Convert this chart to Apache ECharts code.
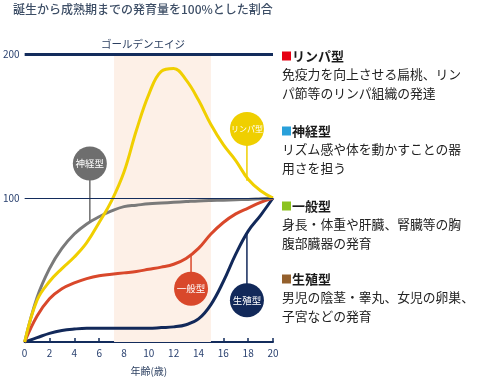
<!DOCTYPE html>
<html><head><meta charset="utf-8">
<script src="https://cdn.jsdelivr.net/npm/echarts@6/dist/echarts.min.js"></script>
<style>html,body{margin:0;padding:0;background:#fff;}#c{width:490px;height:381px;}</style>
</head><body><div id="c"></div>
<script>
const ages = [0,1,2,3,4,5,6,7,8,9,10,11,12,13,14,15,16,17,18,19,20];
const lymphoid     = [0,29,42,51,59,69,83,98,118,147,172,188,190,182,168,151,137,126,113,105,100];
const neural       = [0,31,51,65,75,82,87,91,94,95,96,96.5,97,97.5,98,98.3,98.5,98.8,99,99.5,100];
const general      = [0,18,30,37,41,44,46,47,48,49,50.5,52,54,58,65,75,83,89,93,97,100];
const reproductive = [0,3,6,8,9,9.5,9.5,9.5,9.5,9.5,9.5,10,10.5,12,16,26,42,61,77,88,100];
const yTicks = [100, 200];
const goldenAge = [7.2, 15.0];
const calloutNames = ['神経型','リンパ型','一般型','生殖型'];
const calloutAt = [[5.25,124],[17.9,148],[13.4,37],[17.9,29]];
const calloutTo = [[5.25,84],[17.9,112],[13.4,60],[17.9,76]];
const notes = [
  {head:'リンパ型', lines:['免疫力を向上させる扁桃、リン','パ節等のリンパ組織の発達']},
  {head:'神経型', lines:['リズム感や体を動かすことの器','用さを担う']},
  {head:'一般型', lines:['身長・体重や肝臓、腎臓等の胸','腹部臓器の発育']},
  {head:'生殖型', lines:['男児の陰茎・睾丸、女児の卵巣、','子宮などの発育']}
];

const FONT = '"Noto Sans CJK JP", "Noto Sans", sans-serif';
const NAVY = '#132c5c';
const curveColors = {lymph:'#f0cf00', neural:'#7a7a7a', general:'#d9482b', repro:'#12295a'};
const calloutColors = ['#6e6e6e', '#efcf00', '#d9482b', '#12295a'];
const noteColors = ['#e60012', '#29a0da', '#8cc31f', '#94602c'];

const pairs = arr => ages.map((a, i) => [a, arr[i]]);

const series = [];
series.push({
  type:'line', name:'base', data:[], silent:true,
  markArea:{silent:true, itemStyle:{color:'#fdf0e7'}, data:[[{xAxis:goldenAge[0], yAxis:0},{xAxis:goldenAge[1], yAxis:200}]]},
  markLine:{silent:true, symbol:'none', label:{show:false}, data:[
    {yAxis:yTicks[1], lineStyle:{color:NAVY, width:3, type:'solid'}},
    {yAxis:yTicks[0], lineStyle:{color:NAVY, width:1, type:'solid'}}
  ]}
});
const curves = [
  [reproductive, curveColors.repro],
  [general, curveColors.general],
  [neural, curveColors.neural],
  [lymphoid, curveColors.lymph]
];
curves.forEach(([arr, col]) => {
  series.push({type:'line', data:pairs(arr), smooth:0.4, symbol:'none',
    lineStyle:{color:col, width:3}, silent:true, z:3});
});
calloutNames.forEach((n, i) => {
  series.push({type:'line', data:[calloutAt[i], calloutTo[i]], symbol:'none', silent:true,
    lineStyle:{color:calloutColors[i], width:1.5}, z:2});
});
series.push({type:'scatter', silent:true, z:5,
  data: calloutNames.map((n, i) => ({value:calloutAt[i], name:n, itemStyle:{color:calloutColors[i], opacity:1},
    label:{fontSize: n.length > 3 ? 8 : 9.5}})),
  symbolSize:34,
  itemStyle:{opacity:1},
  label:{show:true, position:'inside', formatter:p => p.name, color:'#fff', fontSize:9.5, fontFamily:FONT}
});

const graphic = [
  {type:'text', left:13, top:3, style:{text:'誕生から成熟期までの発育量を100%とした割合', fontSize:12, fontWeight:500, fill:'#3d4e66', fontFamily:FONT}},
  {type:'text', x:143, y:44, style:{text:'ゴールデンエイジ', fontSize:10.5, fill:'#2b3f60', fontFamily:FONT, align:'center', verticalAlign:'middle'}}
];
const headY = [56, 131, 206, 279];
notes.forEach((nt, i) => {
  graphic.push({type:'rect', shape:{x:282, y:headY[i]-4.5, width:9, height:9}, style:{fill:noteColors[i]}});
  graphic.push({type:'text', x:292, y:headY[i], style:{text:nt.head, fontSize:13, fontWeight:'bold', fill:'#1a1a1a', fontFamily:FONT, verticalAlign:'middle'}});
  nt.lines.forEach((ln, j) => {
    graphic.push({type:'text', x:282, y:headY[i]+18+j*19, style:{text:ln, fontSize:12.8, fill:'#222', fontFamily:FONT, verticalAlign:'middle'}});
  });
});

const chart = echarts.init(document.getElementById('c'), null, {renderer:'canvas'});
chart.setOption({
  animation:false,
  grid:{left:20, right:217, top:54, bottom:33, containLabel:false},
  xAxis:{type:'value', min:0, max:20, interval:2,
    name:'年齢(歳)', nameLocation:'middle', nameGap:24,
    nameTextStyle:{fontSize:10, color:'#2b3f60', fontFamily:FONT},
    axisLine:{lineStyle:{color:NAVY, width:2}},
    axisTick:{inside:true, length:4, lineStyle:{color:NAVY, width:1.5}},
    axisLabel:{fontSize:10, color:'#2b4270', margin:6, fontFamily:FONT},
    splitLine:{show:false}},
  yAxis:{type:'value', min:0, max:200, interval:100,
    axisLine:{show:false}, axisTick:{show:false}, splitLine:{show:false},
    axisLabel:{fontSize:10, color:'#2b4270', margin:5, fontFamily:FONT, formatter:v => v === 0 ? '' : String(v)}},
  series:series,
  graphic:graphic
});
</script></body></html>
